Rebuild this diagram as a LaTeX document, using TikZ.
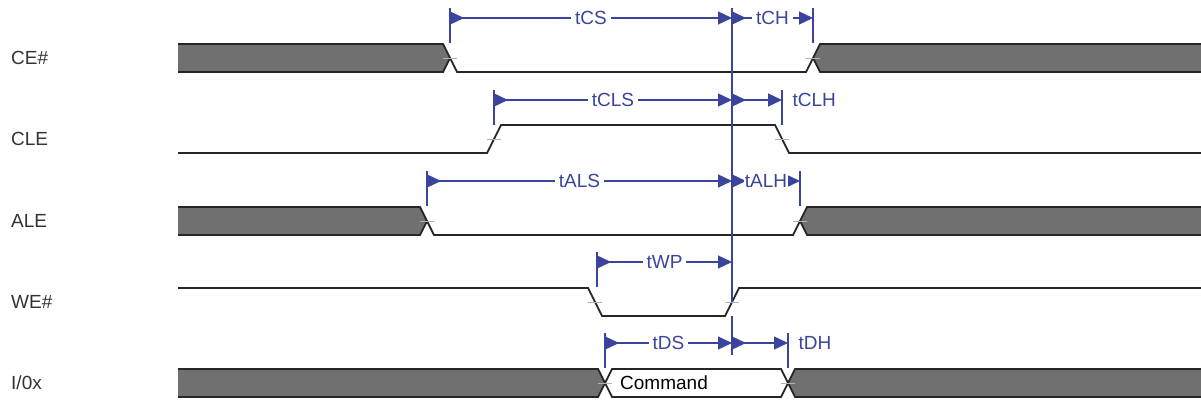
\documentclass[tikz,border=0pt]{standalone}
\usepackage{fontspec}
\setmainfont{Liberation Sans}
\usepackage{tikz}
\usetikzlibrary{calc,arrows.meta}

\definecolor{dimblue}{RGB}{58,68,156}
\definecolor{busgray}{RGB}{112,112,112}
\tikzset{
  wave/.style={line width=1.8pt, black!85},
  busfill/.style={fill=busgray},
  dimln/.style={dimblue, line width=1.3pt},
  dimarr/.style={dimln, {Triangle[reversed,length=14pt,width=13pt]}-{Triangle[length=14pt,width=13pt]}},
  tlbl/.style={fill=white, inner xsep=4pt, inner ysep=0.5pt, text=dimblue},
  xmark/.style={black!30, line width=0.6pt}
}

\begin{document}
\begin{tikzpicture}[x=1pt,y=-1pt, every node/.style={font=\fontsize{19}{22}\selectfont}]
        \useasboundingbox (0,0) rectangle (1201,404);
        % signal names
        \foreach \nm/\yy/\txt in {ce/58/CE\#, cle/139/CLE, ale/221/ALE, we/302/WE\#, io/383/{I/0x}}
        \node[anchor=west, inner sep=0pt, text=black!80] (\nm) at (11,\yy) {\txt};
        % gray buses, left and right
        \foreach \yy/\xx in {58/450, 221/427, 383/605}
        {
        \fill[busfill] (178,\yy-14) -- (\xx-7,\yy-14) -- (\xx,\yy) -- (\xx-7,\yy+14) -- (178,\yy+14) -- cycle;
        \draw[wave] (178,\yy-14) -- (\xx-7,\yy-14) -- (\xx,\yy) -- (\xx-7,\yy+14) -- (178,\yy+14);
        }
        \foreach \yy/\xx in {58/813, 221/800, 383/788}
        {
        \fill[busfill] (1201,\yy-14) -- (\xx+7,\yy-14) -- (\xx,\yy) -- (\xx+7,\yy+14) -- (1201,\yy+14) -- cycle;
        \draw[wave] (1201,\yy-14) -- (\xx+7,\yy-14) -- (\xx,\yy) -- (\xx+7,\yy+14) -- (1201,\yy+14);
        }
        % levels
        \draw[wave] (450,58) -- (457,72) -- (806,72) -- (813,58);
        \draw[wave] (178,153) -- (487,153) -- (501,125) -- (775,125) -- (789,153) -- (1201,153);
        \draw[wave] (427,221) -- (434,235) -- (793,235) -- (800,221);
        \draw[wave] (178,288) -- (588,288) -- (602,316) -- (725,316) -- (739,288) -- (1201,288);
        \draw[wave, fill=white] (605,383) -- (612,369) -- (781,369) -- (788,383) -- (781,397) -- (612,397) -- cycle;
        \node (cmd) at (664,383) {Command};
        \foreach \xx/\yy in {450/58, 813/58, 494/139, 782/139, 427/221, 800/221, 595/302, 732/302, 605/383, 788/383}
        \draw[xmark] (\xx-7,\yy) -- (\xx+7,\yy);
        % timing marks
        \foreach \nm/\xx/\yy in {cs/450/18, ch/813/18, cls/494/100, clh/782/100, als/427/181, alh/800/181, wp/597/262, ds/605/343, dh/788/343}
        {
        \coordinate (\nm) at (\xx,\yy);
        \draw[dimln] (\xx,\yy-10) -- (\xx,\yy+25);
        }
        \coordinate (vtop) at (732,8);
        \coordinate (vbot) at (732,355);
        \draw[dimln] (vtop) -- (732,302) (732,316) -- (vbot);
        \draw[dimarr] (cs) -- node[tlbl] {tCS} (cs -| vtop);
        \draw[dimarr] (cs -| vtop) -- node[tlbl] {tCH} (ch);
        \draw[dimarr] (cls) -- node[tlbl] {tCLS} (cls -| vtop);
        \draw[dimarr] (cls -| vtop) -- (clh) node[anchor=west, inner sep=0pt, xshift=10pt, text=dimblue] {tCLH};
        \draw[dimarr] (als) -- node[tlbl] {tALS} (als -| vtop);
        \draw[dimarr] (als -| vtop) -- node[tlbl, inner xsep=0.5pt] {tALH} (alh);
        \draw[dimarr] (wp) -- node[tlbl] {tWP} (wp -| vtop);
        \draw[dimarr] (ds) -- node[tlbl] {tDS} (ds -| vtop);
        \draw[dimarr] (ds -| vtop) -- (dh) node[anchor=west, inner sep=0pt, xshift=10pt, text=dimblue] {tDH};
    \end{tikzpicture}
\end{document}
